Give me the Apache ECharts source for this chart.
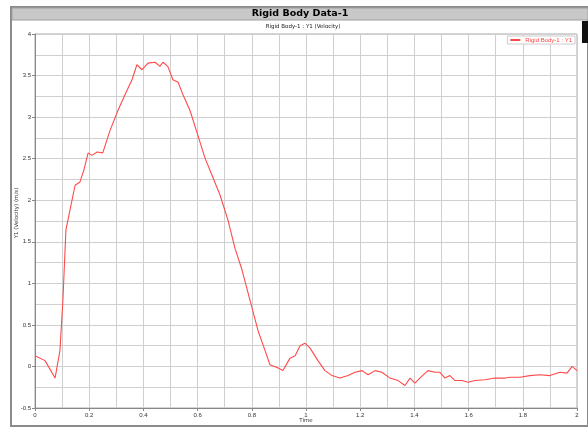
<!DOCTYPE html>
<html><head><meta charset="utf-8">
<script src="https://cdn.jsdelivr.net/npm/echarts@6/dist/echarts.min.js"></script>
<style>html,body{margin:0;padding:0;background:#fff}#c{width:588px;height:433px}</style>
</head><body><div id="c"></div>
<script>
const chartTitle = "Rigid Body Data-1";
const subTitle = "Rigid Body-1 : Y1 (Velocity)";
const seriesName = "Rigid Body-1 : Y1";
const xName = "Time";
const yName = "Y1 (Velocity) (m/s)";
const timeValues = [0,0.037,0.074,0.092,0.103,0.114,0.129,0.148,0.166,0.18,0.196,0.21,0.229,0.25,0.277,0.306,0.332,0.358,0.376,0.395,0.417,0.443,0.461,0.472,0.49,0.509,0.528,0.546,0.572,0.601,0.627,0.657,0.683,0.712,0.738,0.764,0.793,0.823,0.849,0.867,0.897,0.915,0.941,0.96,0.978,0.996,1.015,1.044,1.07,1.096,1.125,1.155,1.181,1.207,1.229,1.255,1.28,1.31,1.34,1.365,1.384,1.402,1.42,1.45,1.476,1.494,1.513,1.531,1.55,1.576,1.598,1.624,1.66,1.697,1.734,1.753,1.79,1.826,1.863,1.9,1.937,1.963,1.982,2];
const yValues = [0.13,0.07,-0.14,0.19,0.8,1.64,1.88,2.18,2.22,2.36,2.57,2.54,2.58,2.57,2.84,3.08,3.27,3.45,3.63,3.57,3.65,3.66,3.61,3.66,3.61,3.45,3.42,3.27,3.08,2.78,2.51,2.27,2.06,1.76,1.42,1.16,0.8,0.43,0.19,0.02,-0.02,-0.05,0.1,0.13,0.25,0.28,0.22,0.07,-0.05,-0.11,-0.14,-0.11,-0.07,-0.05,-0.1,-0.05,-0.07,-0.14,-0.17,-0.23,-0.14,-0.2,-0.14,-0.05,-0.07,-0.07,-0.14,-0.11,-0.17,-0.17,-0.19,-0.17,-0.16,-0.14,-0.14,-0.13,-0.13,-0.11,-0.1,-0.11,-0.07,-0.08,0,-0.05];

const chart = echarts.init(document.getElementById('c'), null, {renderer:'canvas'});
const gridCol = '#cfcfcf';
chart.setOption({
  animation:false,
  backgroundColor:'#fff',
  graphic:[
    {type:'rect', shape:{x:11,y:7,width:577,height:419}, style:{fill:'#fff', stroke:'#8a8a8a', lineWidth:2}, z:-10},
    {type:'rect', shape:{x:12,y:8,width:576,height:12}, style:{fill:'#c8c8c8', stroke:'#a0a0a0', lineWidth:1}, z:-9},
    {type:'text', x:300, y:14, style:{text:chartTitle, font:'bold 9.5px "DejaVu Sans"', fill:'#000', align:'center', verticalAlign:'middle'}},
    {type:'text', x:303, y:27, style:{text:subTitle, font:'5.5px "DejaVu Sans"', fill:'#222', align:'center', verticalAlign:'middle'}},
    {type:'text', x:306, y:421, style:{text:xName, font:'5.5px "DejaVu Sans"', fill:'#333', align:'center', verticalAlign:'middle'}},
    {type:'text', x:17, y:213, rotation:Math.PI/2, style:{text:yName, font:'5.5px "DejaVu Sans"', fill:'#333', align:'center', verticalAlign:'middle'}},
    {type:'rect', shape:{x:582,y:21,width:6,height:22}, style:{fill:'#111'}}
  ],
  grid:{left:35, right:11, top:34, bottom:25, show:true, borderColor:'#aaa', borderWidth:1, outerBoundsMode:'none', containLabel:false},
  legend:{show:true, right:13, top:36, orient:'vertical', itemWidth:10, itemHeight:2, itemGap:2,
    backgroundColor:'#fff', borderColor:'#ccc', borderWidth:1, padding:[1,3],
    textStyle:{fontSize:6, color:'#ff4040'}, icon:'rect', data:[seriesName]},
  xAxis:{type:'value', min:0, max:2, interval:0.2,
    axisLine:{show:true, onZero:false, lineStyle:{color:'#888'}},
    axisTick:{show:true, length:3, lineStyle:{color:'#888'}},
    axisLabel:{fontSize:6, color:'#333', margin:4, formatter:v=>String(+v.toFixed(1))},
    splitLine:{show:true, lineStyle:{color:gridCol, width:1}},
    minorTick:{show:false, splitNumber:2},
    minorSplitLine:{show:true, lineStyle:{color:gridCol, width:1}}},
  yAxis:{type:'value', min:-0.5, max:4, interval:0.5,
    axisLine:{show:true, onZero:false, lineStyle:{color:'#888'}},
    axisTick:{show:true, length:3, lineStyle:{color:'#888'}},
    axisLabel:{fontSize:6, color:'#333', margin:4, formatter:v=>String(+v.toFixed(1))},
    splitLine:{show:true, lineStyle:{color:gridCol, width:1}},
    minorTick:{show:false, splitNumber:2},
    minorSplitLine:{show:true, lineStyle:{color:gridCol, width:1}}},
  series:[{name:seriesName, type:'line', showSymbol:false, symbol:'none',
    data:timeValues.map((t,i)=>[t,yValues[i]]),
    lineStyle:{color:'#ff4a4a', width:1.1}, itemStyle:{color:'#ff4a4a'}}]
});
</script></body></html>
